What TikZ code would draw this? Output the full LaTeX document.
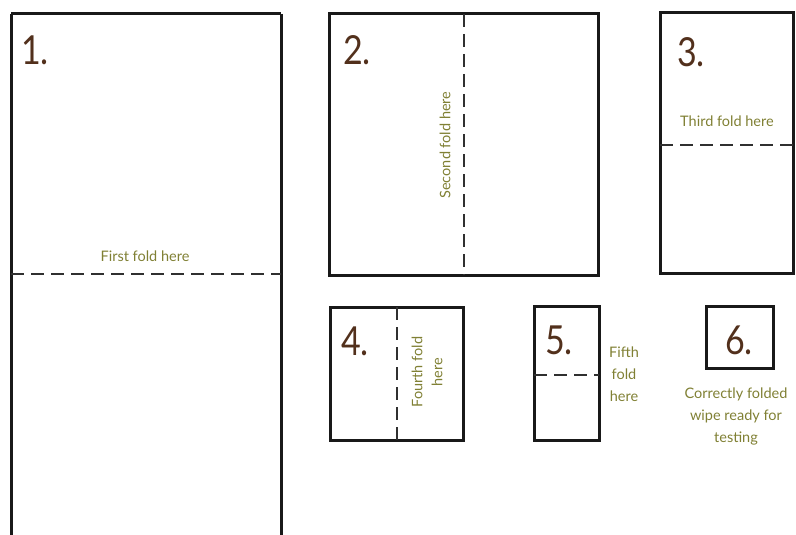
\documentclass[tikz,border=0pt]{standalone}
\usepackage{fontspec}
\setmainfont{Lato}
\definecolor{numcol}{RGB}{82,48,28}
\definecolor{labcol}{RGB}{128,128,52}
\definecolor{framecol}{RGB}{25,25,25}
\tikzset{
  frame/.style={draw=framecol,line width=3pt},
  fold/.style={draw=framecol!90,line width=2.6pt,dash pattern=on 13pt off 7pt},
  num/.style={text=numcol,font=\fontsize{40}{40}\selectfont,inner sep=0pt,xscale=0.85},
  lab/.style={text=labcol,font=\fontsize{14.5}{22}\selectfont,inner sep=0pt,align=center},
}
\begin{document}
\begin{tikzpicture}[x=1pt,y=-1pt]
\useasboundingbox (0,0) rectangle (796,535);
% panel 1
\draw[frame] (11,14) -- (11,540) (281,14) -- (281,540) (11,14) -- (281,14);
\draw[fold] (11,274) -- (281,274);
\node[num] (n1) at (35,50) {1.};
\node[lab] (l1) at (145,256) {First fold here};
% panel 2
\draw[frame] (329,14) rectangle (598,275);
\draw[fold] (464,14) -- (464,275);
\node[num] (n2) at (357,50) {2.};
\node[lab,rotate=90] (l2) at (445,145) {Second fold here};
% panel 3
\draw[frame] (660,13) rectangle (793,273);
\draw[fold] (660,145) -- (793,145);
\node[num] (n3) at (691,52) {3.};
\node[lab] (l3) at (727,121) {Third fold here};
% panel 4
\draw[frame] (330,307) rectangle (463,440);
\draw[fold] (397,307) -- (397,440);
\node[num] (n4) at (355,341) {4.};
\node[lab,rotate=90,font=\fontsize{14.5}{20}\selectfont] (l4) at (427,372) {Fourth fold\\here};
% panel 5
\draw[frame] (534,306) rectangle (599,440);
\draw[fold] (534,375) -- (599,375);
\node[num] (n5) at (559,340) {5.};
\node[lab] (l5) at (624,374) {Fifth\\fold\\here};
% panel 6
\draw[frame] (706,306) rectangle (773,368);
\node[num] (n6) at (739,340) {6.};
\node[lab] (l6) at (736,416) {Correctly folded\\wipe ready for\\testing};
\end{tikzpicture}
\end{document}
